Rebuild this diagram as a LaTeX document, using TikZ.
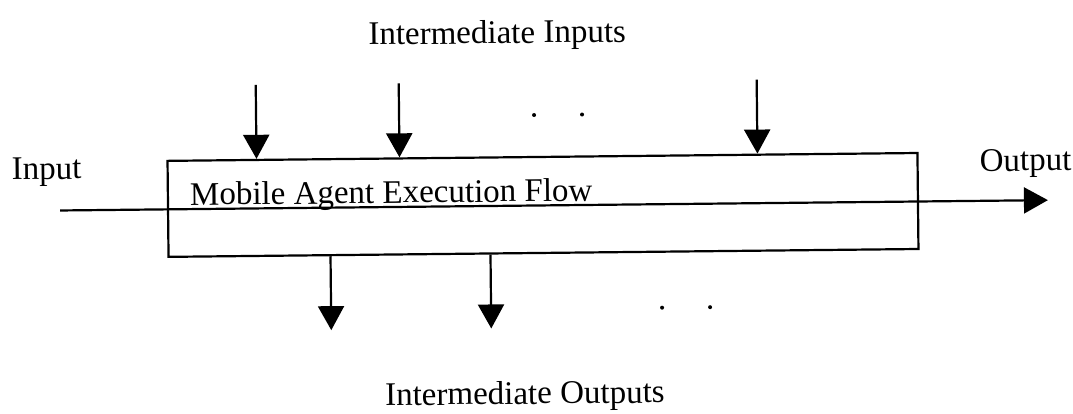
\documentclass[tikz,border=0pt]{standalone}
\usepackage{fontspec}
\setmainfont{Liberation Serif}
\usetikzlibrary{arrows.meta}
\begin{document}
\begin{tikzpicture}[x=1pt,y=-1pt,
  lbl/.style={font=\fontsize{33}{39}\selectfont, inner sep=0pt, anchor=base west},
  flowbox/.style={draw, line width=2.2pt, minimum width=750pt, minimum height=96pt, inner sep=0pt},
  arr/.style={line width=2.2pt, -{Triangle[length=24pt,width=26pt]}},
  dot/.style={circle, fill, inner sep=0pt, minimum size=4pt}]
\useasboundingbox (0,0) rectangle (1073,413);
\begin{scope}[rotate around={0.6:(536,206)}, transform shape]
  % execution block
  \node[flowbox] (flow) at (543,205) {};
  \node[lbl] (title) at (190,201.5) {Mobile Agent Execution Flow};
  % main input/output flow
  \coordinate (src) at (60,205.5);
  \coordinate (snk) at (1048,205.5);
  \draw[arr] (src) -- (snk);
  \node[lbl] (inlbl) at (12,174) {Input};
  \node[lbl] (outlbl) at (980,176) {Output};
  % intermediate inputs
  \node[lbl] (iilbl) at (370,43) {Intermediate Inputs};
  \coordinate (i1) at (257,82);
  \coordinate (i2) at (400,82);
  \coordinate (i3) at (758,82);
  \foreach \c in {i1,i2,i3}
    \draw[arr] (\c) -- (\c |- flow.north);
  \node[dot] (d1) at (535,115) {};
  \node[dot] (d2) at (583,115) {};
  % intermediate outputs
  \coordinate (o1) at (330,328);
  \coordinate (o2) at (490,328);
  \foreach \c in {o1,o2}
    \draw[arr] (\c |- flow.south) -- (\c);
  \node[dot] (d3) at (661,309) {};
  \node[dot] (d4) at (709,309) {};
  \node[lbl] (iolbl) at (383,404) {Intermediate Outputs};
\end{scope}
\end{tikzpicture}
\end{document}
